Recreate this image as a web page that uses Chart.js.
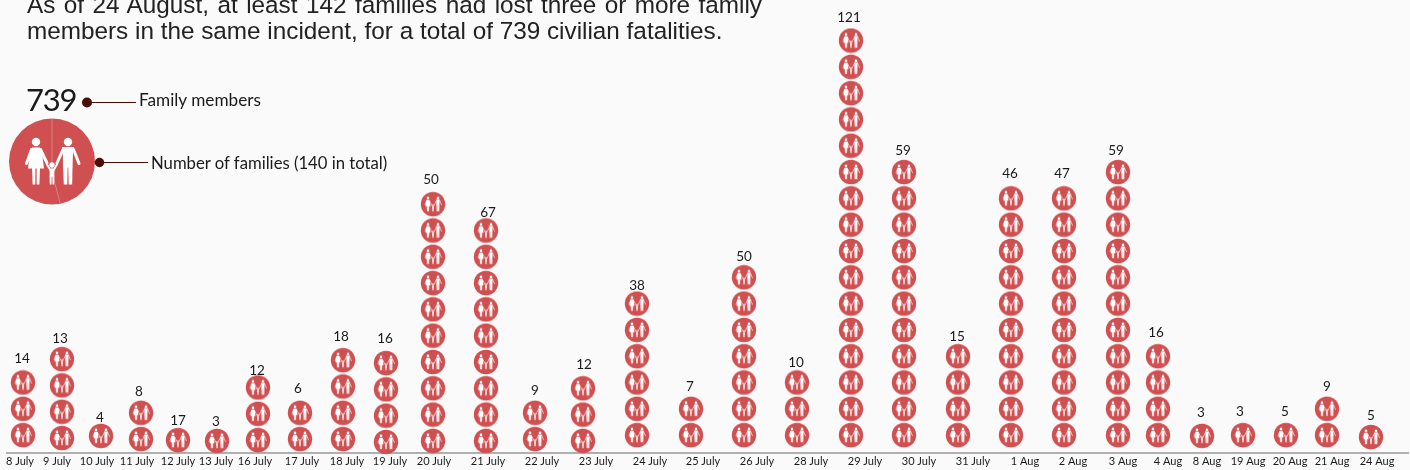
<!DOCTYPE html>
<html><head><meta charset="utf-8">
<script src="https://cdn.jsdelivr.net/npm/chart.js@4"></script>
<style>
html,body{margin:0;padding:0;background:#fafafa;width:1410px;height:470px;overflow:hidden}
#wrap{position:relative;width:1410px;height:470px}
canvas{position:absolute;left:0;top:0}
.t{position:absolute;white-space:nowrap;color:#1a1a1a}
#intro{position:absolute;left:27px;top:-8px;width:735px;font:24.3px/26px "Liberation Sans",Arial,sans-serif;color:#222;text-align:justify}
.lg{font-family:Lato,sans-serif}
</style></head><body>
<div id="wrap">
<canvas id="c" width="1410" height="470"></canvas>
<div id="intro">As of 24 August, at least 142 families had lost three or more family members in the same incident, for a total of 739 civilian fatalities.</div>
<div class="t lg" style="left:26px;top:79px;font-size:31px;line-height:40px;letter-spacing:-1.2px">739</div>
<div class="t lg" style="left:139px;top:89px;font-size:17.2px;line-height:22px">Family members</div>
<div class="t lg" style="left:151px;top:152px;font-size:16.7px;line-height:22px">Number of families (140 in total)</div>
</div>
<script>
const categories = ["8 July","9 July","10 July","11 July","12 July","13 July","16 July","17 July","18 July","19 July","20 July","21 July","22 July","23 July","24 July","25 July","26 July","28 July","29 July","30 July","31 July","1 Aug","2 Aug","3 Aug","4 Aug","8 Aug","19 Aug","20 Aug","21 Aug","24 Aug"];
const fatalities = [14,13,4,8,17,3,12,6,18,16,50,67,9,12,38,7,50,10,121,59,15,46,47,59,16,3,3,5,9,5];
const families = [3,4,1,2,1,1,3,2,4,4,10,9,2,3,6,2,7,3,16,11,4,10,10,11,4,1,1,1,2,1];

// Horizontal axis placement of the columns, tick labels and number labels (axis units)
const columnAt = [23,62,101,141,178,217,258,300,343,386,433,486,535,583,637,691,744,797,851,904,958,1011,1064,1118,1158,1202,1243,1286,1327,1371];
const tickAt = [20,57,97,137,178,216,255,302,347,390,434,488,542,596,650,703,757,811,865,919,973,1025,1073,1123,1168,1207,1248,1290,1332,1377];
const numberAt = [22,60,100,139,178,216,257,298,341,385,431,488,535,584,637,690,744,796,849,903,957,1010,1062,1116,1156,1201,1240,1285,1327,1371];
// Height of each column's first icon above the axis, in stack steps
const restLevel = [.68,.57,.65,.53,.49,.46,.49,.53,.53,.42,.46,.46,.53,.46,.68,.68,.68,.68,.68,.68,.68,.68,.68,.68,.68,.65,.68,.68,.68,.61];
// Gap between top icon and number label
const numberGap = [24,20,18,21,19,19,17,24,23,24,24,18,22,24,18,22,21,20,23,21,20,25,25,21,24,23,23,23,22,21];

const RED = "#d04f50", DARK = "#4a0e06";

function drawFamily(ctx, cx, cy, r, figure, weight){
  const s = r/43;
  ctx.save();
  ctx.translate(cx,cy); ctx.scale(s,s);
  ctx.fillStyle = RED;
  ctx.beginPath(); ctx.arc(0,0,43,0,Math.PI*2); ctx.fill();
  ctx.scale(figure,figure);
  ctx.fillStyle = "#fff"; ctx.strokeStyle = "#fff"; ctx.lineCap = "round"; ctx.lineJoin="round";
  const poly = pts => { ctx.beginPath(); pts.forEach((p,i)=> i?ctx.lineTo(p[0],p[1]):ctx.moveTo(p[0],p[1])); ctx.closePath(); ctx.fill(); };
  const line = (a,b,w) => { ctx.lineWidth=w*weight; ctx.beginPath(); ctx.moveTo(a[0],a[1]); ctx.lineTo(b[0],b[1]); ctx.stroke(); };
  const dot = (x,y,rad) => { ctx.beginPath(); ctx.arc(x,y,rad,0,Math.PI*2); ctx.fill(); };
  // woman
  dot(-16,-19.5,4.2);
  poly([[-20,-14],[-12,-14],[-10,-9],[-8,7],[-24,7],[-22,-9]]);
  line([-20.5,-12],[-25.5,2],2.2);
  line([-11.5,-12],[-5,1.5],2.2);
  poly([[-20,6],[-16.6,6],[-16.7,23],[-19.4,23]]);
  poly([[-15.4,6],[-12,6],[-12.6,23],[-15.3,23]]);
  // man
  dot(16,-19.5,4.2);
  poly([[10,-14.5],[22,-14.5],[21,-9],[20.5,6],[11,6],[10.8,-9]]);
  line([11,-12],[5,1.5],2.2);
  line([21.5,-12],[27,2],2.2);
  poly([[11,5],[15.6,5],[15.3,23],[11.8,23]]);
  poly([[16.2,5],[20.5,5],[20.2,23],[16.7,23]]);
  // child
  dot(0,3.5,2.7);
  poly([[-2.6,7],[2.6,7],[2.2,15],[-2.2,15]]);
  line([-2,8],[-5,3],1.4); line([2,8],[5,3],1.4);
  poly([[-2.4,14],[-.3,14],[-.5,23],[-2.2,23]]);
  poly([[.3,14],[2.4,14],[2.2,23],[.5,23]]);
  ctx.restore();
}

const iconCanvas = document.createElement("canvas");
iconCanvas.width = 26; iconCanvas.height = 26;
drawFamily(iconCanvas.getContext("2d"), 13, 13, 12.2, 1.1, 0.9);

const points = [];
families.forEach((n,i)=>{ for(let k=0;k<n;k++) points.push({x:columnAt[i], y:restLevel[i]+k}); });

const numberLabels = {
  id:"numberLabels",
  afterDatasetsDraw(chart){
    const {ctx,scales:{x,y}} = chart;
    ctx.save();
    ctx.font = '13.5px Lato,sans-serif';
    ctx.fillStyle = "#1a1a1a"; ctx.textAlign="center"; ctx.textBaseline="middle";
    fatalities.forEach((v,i)=>{
      const top = y.getPixelForValue(restLevel[i]+families[i]-1);
      ctx.fillText(String(v), x.getPixelForValue(numberAt[i]), top-numberGap[i]);
    });
    ctx.restore();
  }
};
const keyGraphic = {
  id:"keyGraphic",
  afterDatasetsDraw(chart){
    const ctx = chart.ctx;
    ctx.save();
    drawFamily(ctx,52,161.5,43,1,1.35);
    ctx.strokeStyle="rgba(255,255,255,.35)"; ctx.lineWidth=.8;
    ctx.beginPath(); ctx.moveTo(52,118.5); ctx.lineTo(52,172); ctx.lineTo(60,203); ctx.stroke();
    ctx.fillStyle=DARK; ctx.strokeStyle=DARK; ctx.lineWidth=1;
    ctx.beginPath(); ctx.arc(87,102.5,5,0,Math.PI*2); ctx.fill();
    ctx.beginPath(); ctx.moveTo(87,102.5); ctx.lineTo(136,102.5); ctx.stroke();
    ctx.beginPath(); ctx.arc(99.5,162.5,4.7,0,Math.PI*2); ctx.fill();
    ctx.beginPath(); ctx.moveTo(99,162.5); ctx.lineTo(148,162.5); ctx.stroke();
    ctx.restore();
  }
};

new Chart(document.getElementById("c"),{
  type:"scatter",
  data:{datasets:[{data:points,pointStyle:iconCanvas,pointRadius:12,pointHoverRadius:12,showLine:false,clip:false}]},
  options:{
    responsive:false,animation:false,
    layout:{autoPadding:false,padding:{left:7,right:2,top:0,bottom:0}},
    plugins:{legend:{display:false},tooltip:{enabled:false}},
    scales:{
      x:{type:"linear",min:7,max:1408,position:"bottom",
        grid:{display:false,drawTicks:false},
        border:{display:true,color:"#b0b0b0",width:2},
        afterBuildTicks(s){ s.ticks = tickAt.map(v=>({value:v})); },
        afterFit(s){ s.height = 17; },
        ticks:{autoSkip:false,minRotation:0,maxRotation:0,padding:2,color:"#1a1a1a",
          font:{family:'Lato,sans-serif',size:11},
          callback(v,i){ return categories[i]; }}
      },
      y:{display:false,min:0,max:17.22}
    }
  },
  plugins:[numberLabels,keyGraphic]
});
</script>
</body></html>
